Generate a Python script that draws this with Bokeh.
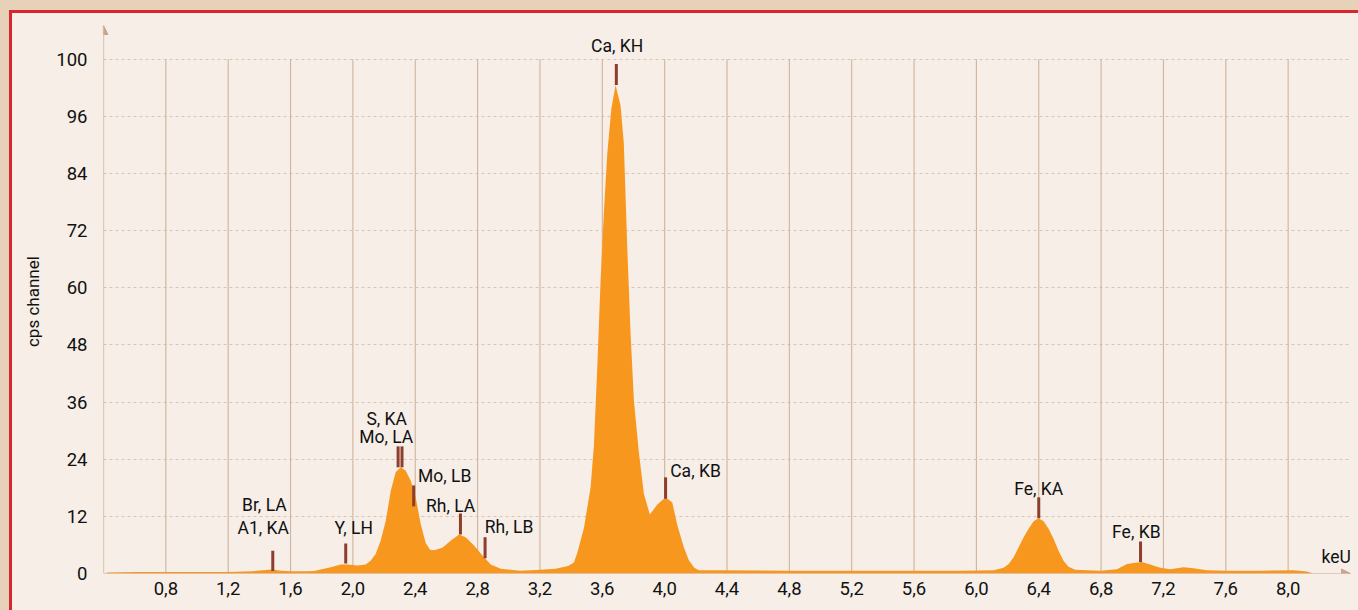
from bokeh.plotting import figure
from bokeh.models import Range1d, FixedTicker, Arrow, NormalHead, ColumnDataSource
from bokeh.core.properties import value
from bokeh.embed import file_html
from bokeh.resources import INLINE

# ---- data -------------------------------------------------------------
energy_kev = [0.42, 0.60, 0.80, 1.00, 1.20, 1.35, 1.42, 1.48, 1.54, 1.60, 1.70, 1.751,
              1.858, 1.922, 1.965, 2.029, 2.082, 2.114, 2.146, 2.178, 2.211, 2.243,
              2.275, 2.307, 2.339, 2.371, 2.403, 2.435, 2.467, 2.495, 2.520, 2.574, 2.627,
              2.681, 2.723, 2.777, 2.831, 2.884, 2.948, 3.076, 3.204, 3.30, 3.38,
              3.418, 3.440, 3.482, 3.525, 3.546, 3.568, 3.589, 3.610, 3.632, 3.658,
              3.685, 3.717, 3.738, 3.760, 3.781, 3.803, 3.835, 3.867, 3.905, 3.953,
              4.006, 4.049, 4.081, 4.123, 4.155, 4.19, 4.22, 4.36, 4.8, 5.2, 5.6,
              5.897, 6.111, 6.175, 6.207, 6.239, 6.271, 6.303, 6.335, 6.367, 6.399,
              6.431, 6.463, 6.495, 6.527, 6.559, 6.591, 6.634, 6.795, 6.902, 6.966,
              7.008, 7.062, 7.115, 7.179, 7.244, 7.329, 7.393, 7.479, 7.607, 7.821,
              8.034, 8.120, 8.162]
counts_cps = [0.2, 0.3, 0.3, 0.3, 0.3, 0.45, 0.7, 0.85, 0.6, 0.45, 0.45, 0.5,
              1.3, 1.9, 1.9, 1.7, 1.9, 2.7, 4.1, 6.9, 11.1, 17.4,
              21.3, 22.3, 21.6, 19.5, 16.0, 10.4, 6.4, 5.0, 4.9, 5.4, 6.9,
              8.2, 7.6, 5.9, 3.8, 1.9, 1.0, 0.6, 0.8, 1.0, 1.6,
              2.3, 4.4, 9.5, 18.1, 26.8, 43.4, 61.5, 75.9, 88.2, 97.6,
              102.6, 98.3, 90.4, 68.7, 50.6, 36.2, 25.3, 16.7, 12.4, 14.5,
              16.0, 14.9, 10.2, 5.5, 2.8, 1.2, 0.7, 0.7, 0.6, 0.6, 0.6,
              0.6, 0.7, 1.2, 2.0, 3.4, 5.5, 7.6, 9.4, 11.0, 11.6,
              11.0, 9.4, 7.3, 4.8, 2.7, 1.4, 0.8, 0.6, 0.9, 2.0,
              2.2, 2.4, 1.9, 1.2, 0.9, 1.3, 1.1, 0.7, 0.6, 0.6,
              0.7, 0.4, 0.0]

marker_kev = [1.486, 1.954, 2.290, 2.315, 2.390, 2.690, 2.848, 3.690, 4.006, 6.400, 7.053]
marker_low = [0.5, 2.1, 22.3, 22.3, 14.1, 8.2, 3.2, 102.6, 15.7, 11.6, 2.4]
marker_high = [4.8, 6.3, 26.7, 26.7, 18.5, 12.6, 7.6, 107.0, 20.2, 16.0, 6.7]

label_text = ["Br, LA", "A1, KA", "Y, LH", "S, KA", "Mo, LA", "Mo, LB", "Rh, LA",
              "Rh, LB", "Ca, KH", "Ca, KB", "Fe, KA", "Fe, KB", "keU"]
label_kev = [1.432, 1.425, 2.005, 2.217, 2.214, 2.589, 2.627, 3.002, 3.695, 4.198,
             6.400, 7.026, 8.308]
label_cps = [14.3, 9.5, 9.5, 32.4, 28.6, 20.4, 14.1, 9.7, 110.8, 21.5, 17.7, 8.7, 3.4]

x_ticks = [0.8, 1.2, 1.6, 2.0, 2.4, 2.8, 3.2, 3.6, 4.0, 4.4, 4.8, 5.2, 5.6, 6.0,
           6.4, 6.8, 7.2, 7.6, 8.0]
x_tick_labels = ["0,8", "1,2", "1,6", "2,0", "2,4", "2,8", "3,2", "3,6", "4,0", "4,4",
                 "4,8", "5,2", "5,6", "6,0", "6,4", "6,8", "7,2", "7,6", "8,0"]
y_ticks = [0, 12, 24, 36, 48, 60, 72, 84, 96, 108]
y_tick_labels = ["0", "12", "24", "36", "48", "60", "72", "84", "96", "100"]

# ---- style ------------------------------------------------------------
CREAM = "#F6EEE7"
BEIGE = "#E8D1B9"
RED = "#D7262C"
ORANGE = "#F7971E"
BROWN = "#8E3F2C"
AXIS = "#C9A58C"
VGRID = "#D2B39B"
HGRID = "#D9C5B3"
TXT = "#111111"
FONT = "Roboto"

X0, X1 = 0.4, 8.4
Y0, Y1 = 0, 115.1

p = figure(width=1346, height=597, output_backend="svg", toolbar_location=None,
           x_range=Range1d(X0, X1), y_range=Range1d(Y0, Y1),
           min_border_left=91, min_border_right=8, min_border_top=12, min_border_bottom=37)
p.background_fill_color = CREAM
p.border_fill_color = CREAM
p.outline_line_color = None

p.xgrid.visible = False
p.ygrid.ticker = FixedTicker(ticks=y_ticks[1:])
p.ygrid.grid_line_color = HGRID
p.ygrid.grid_line_dash = "3 3"
p.ygrid.grid_line_width = 1.2

# vertical grid lines from 0 to the top tick
p.segment(x0=x_ticks, y0=[y_ticks[0]] * len(x_ticks), x1=x_ticks,
          y1=[y_ticks[-1]] * len(x_ticks), line_color=VGRID, line_width=1.1)

# spectrum
p.varea(x=energy_kev, y1=[0] * len(energy_kev), y2=counts_cps, fill_color=ORANGE)

# line markers
p.segment(x0=marker_kev, y0=marker_low, x1=marker_kev, y1=marker_high,
          line_color=BROWN, line_width=3)

# labels
src = ColumnDataSource(dict(x=label_kev, y=label_cps, t=label_text))
p.text(x="x", y="y", text="t", source=src, text_align="center",
       text_baseline="alphabetic", text_font=value(FONT), text_font_size="17.5px",
       text_color=TXT)

# axes
for ax in (p.xaxis[0], p.yaxis[0]):
    ax.axis_line_color = None
    ax.major_tick_line_color = None
    ax.minor_tick_line_color = None
    ax.major_tick_out = 0
    ax.major_tick_in = 0
    ax.minor_tick_out = 0
    ax.minor_tick_in = 0
    ax.major_label_text_font = FONT
    ax.major_label_text_color = TXT
p.xaxis.ticker = FixedTicker(ticks=x_ticks)
p.xaxis.major_label_overrides = dict(zip(x_ticks, x_tick_labels))
p.xaxis.major_label_text_font_size = "18.5px"
p.xaxis.major_label_standoff = 8
p.yaxis.ticker = FixedTicker(ticks=y_ticks)
p.yaxis.major_label_overrides = dict(zip(y_ticks, y_tick_labels))
p.yaxis.major_label_text_font_size = "18.5px"
p.yaxis.major_label_standoff = 16
p.yaxis.axis_label = "cps  channel"
p.yaxis.axis_label_text_font = FONT
p.yaxis.axis_label_text_font_style = "normal"
p.yaxis.axis_label_text_font_size = "17px"
p.yaxis.axis_label_text_color = TXT
p.yaxis.axis_label_standoff = 10

head = dict(size=9, fill_color=AXIS, line_color=AXIS)
p.add_layout(Arrow(end=NormalHead(**head), x_start=X0, y_start=0, x_end=X1, y_end=0,
                   line_color=AXIS, line_width=1.2))
p.add_layout(Arrow(end=NormalHead(**head), x_start=X0, y_start=0, x_end=X0, y_end=Y1,
                   line_color=AXIS, line_width=1.2))

page_css = ("<style>html{margin:0!important;padding:0!important;overflow:hidden;"
            f"background:{BEIGE}!important;height:auto!important}}"
            "body{margin:10px 0 0 9px!important;padding:0!important;height:auto!important;"
            f"box-sizing:content-box!important;border-left:3px solid {RED};"
            f"border-top:3px solid {RED};background:{CREAM};overflow:hidden}}</style>")
html = file_html(p, INLINE)
html = html.replace("</head>", page_css + "</head>", 1)
open("out.html", "w").write(html)
